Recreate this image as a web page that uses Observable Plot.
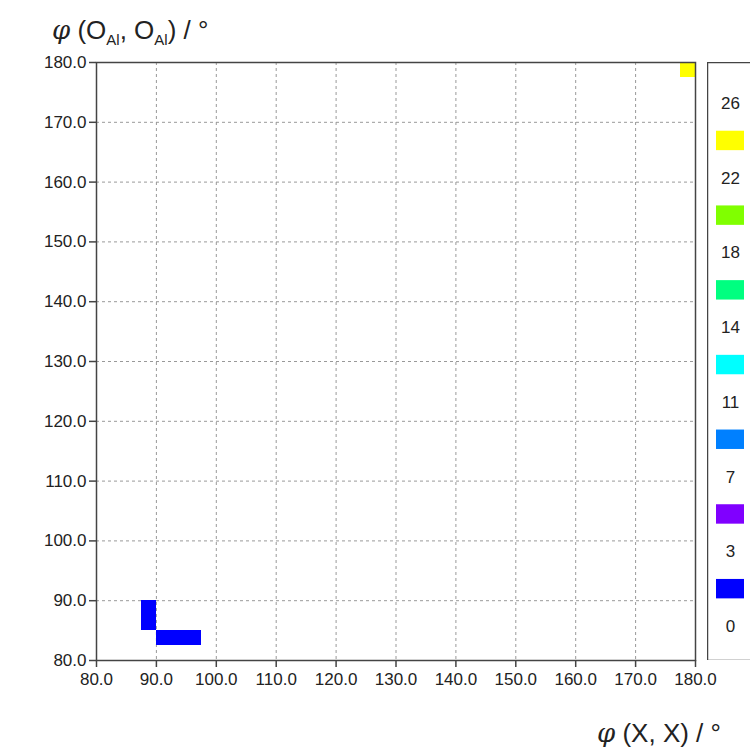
<!DOCTYPE html>
<html>
<head>
<meta charset="utf-8">
<script src="https://cdn.jsdelivr.net/npm/d3@7"></script>
<script src="https://cdn.jsdelivr.net/npm/@observablehq/plot@0.6"></script>
<style>
  html, body { margin: 0; padding: 0; background: #fff; overflow: hidden; }
  #wrap { position: relative; width: 750px; height: 749px; overflow: hidden; font-family: "Liberation Sans", Arial, sans-serif; color: #222; }
  #main { position: absolute; left: 0; top: 0; }
  #legend { position: absolute; left: 707px; top: 62px; width: 60px; }
  #legend svg, #main svg { max-width: none !important; }
  .title { position: absolute; font-size: 26px; line-height: 1; white-space: nowrap; }
  .title i { font-family: "DejaVu Serif", serif; font-style: italic; }
  .title sub { font-size: 15px; vertical-align: -6px; line-height: 0; }
</style>
</head>
<body>
<div id="wrap">
  <div id="main"></div>
  <div id="legend"></div>
  <div class="title" style="left:52px; top:17px;"><i>φ</i> (O<sub>Al</sub>, O<sub>Al</sub>) / °</div>
  <div class="title" style="left:597px; top:720px;"><i>φ</i> (X, X) / °</div>
</div>
<script>
// ---- data ----
const xTicks = [80, 90, 100, 110, 120, 130, 140, 150, 160, 170, 180];
const yTicks = [80, 90, 100, 110, 120, 130, 140, 150, 160, 170, 180];
const binSize = 2.5;
const cellX = [87.5, 87.5, 90, 92.5, 95, 177.5];
const cellY = [85, 87.5, 82.5, 82.5, 82.5, 177.5];
const cellCount = [1, 1, 1, 1, 1, 24];
const thresholds = [3, 7, 11, 14, 18, 22];
const legendLabels = [26, 22, 18, 14, 11, 7, 3, 0];
const legendColors = ["#ffff00", "#80ff00", "#00ff80", "#00ffff", "#0080ff", "#8000ff", "#0000ff"];

const cells = cellX.map((x, i) => ({x, y: cellY[i], count: cellCount[i]}));
const rangeColors = legendColors.slice().reverse();
const fmt = d => d.toFixed(1);

const main = Plot.plot({
  width: 700, height: 700,
  marginTop: 62, marginLeft: 96, marginRight: 5, marginBottom: 40,
  style: {fontFamily: "'Liberation Sans', Arial, sans-serif", fontSize: "17px", color: "#222", background: "transparent", overflow: "visible"},
  x: {domain: [80, 180]},
  y: {domain: [80, 180]},
  color: {type: "threshold", domain: thresholds, range: rangeColors},
  marks: [
    Plot.gridX(xTicks.slice(1, -1), {stroke: "#999", strokeOpacity: 1, strokeDasharray: "3,3"}),
    Plot.gridY(yTicks.slice(1, -1), {stroke: "#999", strokeOpacity: 1, strokeDasharray: "3,3"}),
    Plot.rect(cells, {x1: "x", x2: d => d.x + binSize, y1: "y", y2: d => d.y + binSize, fill: d => d.count, shapeRendering: "crispEdges"}),
    Plot.frame({stroke: "#444", strokeWidth: 1.5}),
    Plot.axisX(xTicks, {tickFormat: fmt, tickSize: 7, tickPadding: 5, fontSize: 17, label: null, stroke: "#444", strokeWidth: 1.5, fill: "#222"}),
    Plot.axisY(yTicks, {tickFormat: fmt, tickSize: 7, tickPadding: 3, fontSize: 17, label: null, stroke: "#444", strokeWidth: 1.5, fill: "#222"})
  ]
});
document.getElementById("main").append(main);

const legLabels = legendLabels.map((v, i) => ({v, i}));
const legSwatches = legendColors.map((c, i) => ({c, i: i + 0.5}));
const legend = Plot.plot({
  width: 60, height: 598,
  margin: 0,
  style: {fontFamily: "'Liberation Sans', Arial, sans-serif", fontSize: "17px", color: "#222", background: "transparent"},
  x: {domain: [0, 60], range: [0, 60], axis: null},
  y: {domain: [-0.55, 7.455], range: [0, 598], axis: null},
  marks: [
    Plot.rect(legSwatches, {x1: 9, x2: 37, y1: d => d.i - 0.13, y2: d => d.i + 0.13, fill: d => d.c}),
    Plot.text(legLabels, {x: 23, y: "i", text: d => String(d.v), fill: "#222", fontSize: 17}),
    Plot.frame({stroke: "#444", strokeWidth: 1.5})
  ]
});
document.getElementById("legend").append(legend);
</script>
</body>
</html>
